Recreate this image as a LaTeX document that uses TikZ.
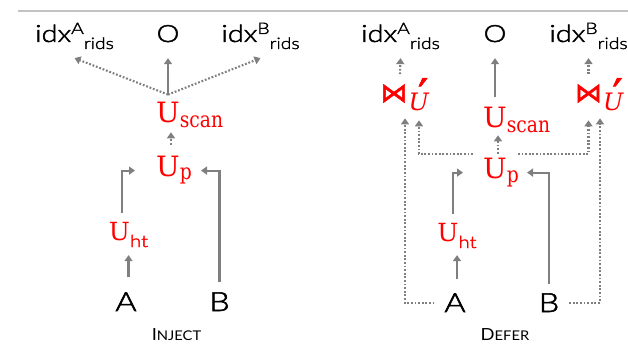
\documentclass[tikz,border=0pt]{standalone}
\usepackage{fontspec}
\usetikzlibrary{arrows.meta}

% fonts: light wide sans for labels, serif for the red operators
\IfFontExistsTF{Lato Light}
  {\newfontfamily\labfont[FakeStretch=1.22,FakeBold=2]{Lato Light}\newcommand\labk{0.88}}
  {\newfontfamily\labfont[FakeStretch=1.2]{Carlito}\newcommand\labk{1}}
\newfontfamily\capfont[FakeStretch=1.1]{Lato}
\newfontfamily\serfont{DejaVu Serif}
\newfontfamily\subfont[FakeStretch=0.85]{DejaVu Serif}
\newfontfamily\opfont[FakeBold=1.6]{DejaVu Sans}

\definecolor{arrowgray}{HTML}{7F7F7F}
\definecolor{rulegray}{HTML}{C3C3C3}
\definecolor{opred}{HTML}{FF0000}

\newcommand\fsz[1]{\fontsize{#1}{#1}\selectfont}
% label sizes, scaled for the label family in use
\newcommand\lfs[1]{\fontsize{\fpeval{#1*\labk}pt}{\fpeval{#1*\labk}pt}\selectfont}
% idx with a superscript relation and "rids" subscript
\newcommand\idxrids[1]{idx\raisebox{8pt}{\lfs{18}#1}\raisebox{-7pt}{\lfs{18}rids}}
% operator U with a hanging subscript (box covers only the U)
\newcommand\opU[2]{{\fsz{28}U}\rlap{\raisebox{-#2}{\subfont\fsz{22}#1}}}
% primed join with subscript U
\newcommand\joinU{{\opfont\fsz{27}⋈}\rlap{\kern1pt\raisebox{-9pt}{\fsz{24}\itshape U}}\rlap{\kern10.5pt\raisebox{-9pt}{\opfont\fsz{45}′}}}
\newcommand\uht{{\fsz{25}U}\raisebox{-7pt}{\labfont\lfs{19}ht}}
% hand-made small caps
\newcommand\capsc[2]{{\fsz{16.7}#1}{\fsz{13.4}#2}}

\tikzset{
  txtlab/.style={font={\labfont\lfs{27}}, inner sep=0pt, outer sep=0pt, anchor=base},
  inlab/.style={txtlab, font={\labfont\lfs{30}}},
  redop/.style={font=\serfont, text=opred, inner sep=0pt, outer sep=0pt, anchor=base},
  panelcap/.style={font=\capfont, inner sep=0pt, outer sep=0pt, anchor=base},
  arr/.style={draw=arrowgray, line width=2.1pt, -{Triangle[length=6pt,width=8pt]}},
  dotarr/.style={arr, dash pattern=on 1.8pt off 1.8pt},
}

\begin{document}
\begin{tikzpicture}[x=1pt,y=-1pt]
\useasboundingbox (0,0) rectangle (628,347);
\draw[rulegray, line width=2pt] (18,11.5) -- (628,11.5);

% ---------- Inject ----------
\node[txtlab] (idxAL) at (74.5,42) {\idxrids{A}};
\node[txtlab] (OL) at (168,42) {O};
\node[txtlab] (idxBL) at (260.5,42) {\idxrids{B}};
\node[redop] (uscanL) at (168,123) {\opU{scan}{5pt}};
\node[redop, minimum width=66pt] (upL) at (168,177) {\opU{p}{3pt}};
\node[redop] (uhtL) at (128.5,240) {\uht};
\node[inlab] (AL) at (126,311) {A};
\node[inlab] (BL) at (219.5,311) {B};
\node[panelcap] (capL) at (176.5,340) {\capsc{I}{NJECT}};

\draw[arr] ([yshift=8pt]uscanL.north) -- ([yshift=-16pt]OL.south);
\draw[dotarr] ([yshift=8pt]uscanL.north) -- ([yshift=-9pt]idxAL.south);
\draw[dotarr] ([yshift=8pt]uscanL.north) -- ([yshift=-9pt]idxBL.south);
\draw[dotarr] ([xshift=3pt,yshift=12pt]upL.north) -- ([xshift=3pt,yshift=-4pt]uscanL.south);
\draw[arr] ([xshift=-6.5pt,yshift=9pt]uhtL.north) |- (upL.west);
\draw[arr] ([yshift=10pt]BL.north) |- (upL.east);
\draw[arr] ([yshift=15pt]uhtL.south |- AL.north) -- ([yshift=-8pt]uhtL.south);

% ---------- Defer ----------
\node[txtlab] (idxAR) at (400.5,42) {\idxrids{A}};
\node[txtlab] (OR) at (495,42) {O};
\node[txtlab] (idxBR) at (588.5,42) {\idxrids{B}};
\node[redop] (bjA) at (394,102) {\joinU};
\node[redop] (bjB) at (588.5,102) {\joinU};
\node[redop] (uscanR) at (495,128) {\opU{scan}{5pt}};
\node[redop, minimum width=64pt] (upR) at (495,179) {\opU{p}{3pt}};
\node[redop] (uhtR) at (457,241) {\uht};
\node[inlab] (AR) at (455,312) {A};
\node[inlab] (BR) at (549,312) {B};
\node[panelcap] (capR) at (505,340) {\capsc{D}{EFER}};

\draw[arr] ([yshift=10.5pt]uscanR.north) -- ([yshift=-16pt]OR.south);
\draw[dotarr] ([xshift=6pt,yshift=4pt]bjA.north) -- ([yshift=-9pt]idxAR.south);
\draw[dotarr] ([yshift=4pt]bjB.north) -- ([yshift=-9pt]idxBR.south);
\draw[dotarr] ([xshift=3pt,yshift=5pt]upR.north) -- ([xshift=3pt,yshift=-2pt]uscanR.south);
\draw[dotarr] ([xshift=-22pt,yshift=4.6pt]upR.north) -| ([xshift=25pt,yshift=-9pt]bjA.south);
\draw[dotarr] ([xshift=23pt,yshift=4.6pt]upR.north) -| ([yshift=-9pt]bjB.south);
\draw[dotarr] ([xshift=-10pt]AR.west) -| ([xshift=11pt,yshift=-7pt]bjA.south);
\draw[dotarr] ([xshift=10pt]BR.east) -| ([xshift=11.5pt,yshift=-7pt]bjB.south);
\draw[arr] ([yshift=14pt]uhtR.south |- AR.north) -- ([yshift=-7pt]uhtR.south);
\draw[arr] ([xshift=-4pt,yshift=9pt]uhtR.north) |- (upR.west);
\draw[arr] ([yshift=9pt]BR.north) |- (upR.east);
\end{tikzpicture}
\end{document}
